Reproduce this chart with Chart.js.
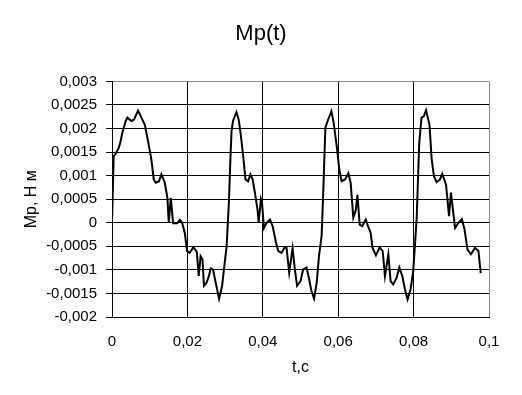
<!DOCTYPE html>
<html>
<head>
<meta charset="utf-8">
<script src="https://cdn.jsdelivr.net/npm/chart.js@4"></script>
<style>
  html, body { margin: 0; padding: 0; background: #fff; }
  #wrap { width: 522px; height: 395px; }
</style>
</head>
<body>
<div id="wrap"><canvas id="grafico"></canvas></div>
<script>
// время, с
const t = [
  0, 0.00045, 0.00116, 0.00178, 0.00222, 0.00275, 0.00364, 0.00408, 0.00514, 0.00585,
  0.00691, 0.0078, 0.00868, 0.00957, 0.01045, 0.01107, 0.0116, 0.01249, 0.0131, 0.014,
  0.0147, 0.01505, 0.0156, 0.0162, 0.0173, 0.018, 0.0186, 0.0193, 0.0199, 0.0206,
  0.0216, 0.0225, 0.023, 0.0235, 0.024, 0.0244, 0.0251, 0.0257, 0.0262, 0.0268,
  0.0275, 0.0284, 0.0292, 0.0297, 0.0304, 0.031, 0.0314, 0.0317, 0.0321, 0.033,
  0.0336, 0.0341, 0.0348, 0.0354, 0.0361, 0.0367, 0.0373, 0.0379, 0.0386, 0.0389,
  0.0395, 0.0398, 0.0403, 0.041, 0.0419, 0.0426, 0.0435, 0.0441, 0.045, 0.0457,
  0.0463, 0.047, 0.0479, 0.0485, 0.0491, 0.05, 0.0507, 0.0516, 0.0523, 0.0529,
  0.0536, 0.0543, 0.0549, 0.0556, 0.056, 0.0566, 0.0572, 0.0582, 0.0588, 0.0596,
  0.0603, 0.0609, 0.0618, 0.0627, 0.0633, 0.064, 0.0647, 0.0651, 0.0657, 0.0664,
  0.0673, 0.0679, 0.0686, 0.0691, 0.07, 0.071, 0.0718, 0.0724, 0.0733, 0.0739,
  0.0746, 0.0755, 0.0762, 0.077, 0.0777, 0.0784, 0.0792, 0.0799, 0.0808, 0.0815,
  0.0821, 0.0827, 0.0833, 0.0842, 0.0848, 0.0854, 0.0861, 0.087, 0.0876, 0.0886,
  0.0894, 0.0899, 0.091, 0.0919, 0.0928, 0.0935, 0.0943, 0.0952, 0.0963, 0.0972,
  0.0978
];
// Mp, Н м
const mp = [
  0, 0.00141, 0.00149, 0.00159, 0.00171, 0.00191, 0.00216, 0.00223, 0.00216, 0.00219,
  0.00238, 0.00223, 0.00209, 0.00173, 0.00134, 0.00092, 0.00085, 0.00088, 0.00103, 0.00085,
  0.00053, 0, 0.00053, -0.00001, -0.00001, 0.00006, 0, -0.00021, -0.0006, -0.00064,
  -0.00052, -0.00062, -0.00113, -0.00071, -0.00078, -0.00134, -0.00127, -0.00113, -0.00097, -0.00099,
  -0.00127, -0.00161, -0.00134, -0.00099, -0.0005, 0.00042, 0.00134, 0.00194, 0.00216, 0.00235,
  0.00219, 0.00191, 0.00141, 0.00092, 0.00088, 0.00103, 0.00092, 0.00064, 0.00028, 0,
  0.0005, 0.00042, -0.00011, 0, 0.00007, -0.00007, -0.00042, -0.0006, -0.00064, -0.00053,
  -0.00053, -0.00106, -0.00054, -0.00099, -0.00134, -0.00124, -0.00099, -0.00095, -0.0012, -0.00145,
  -0.00161, -0.00127, -0.00071, -0.00028, 0.00057, 0.00202, 0.00216, 0.00237, 0.00212, 0.00163,
  0.00113, 0.00088, 0.00092, 0.00105, 0.00085, 0.00011, 0.00028, 0.0006, -0.00004, -0.00007,
  0.00007, -0.00007, -0.00021, -0.00053, -0.00069, -0.00052, -0.0006, -0.00113, -0.00067, -0.00124,
  -0.00131, -0.00117, -0.00095, -0.00113, -0.00141, -0.00163, -0.00141, -0.00103, 0.00007, 0.0017,
  0.00223, 0.00226, 0.00239, 0.00209, 0.00134, 0.00099, 0.00086, 0.00092, 0.00104, 0.00081,
  0.00014, 0.00064, -0.00011, 0, 0.00008, -0.00014, -0.00057, -0.00067, -0.00053, -0.0006,
  -0.00107
];
const xTicks = [0, 0.02, 0.04, 0.06, 0.08, 0.1];
const yMin = -0.002, yMax = 0.003, yStep = 0.0005;

const fmt = v => String(+Number(v).toFixed(5)).replace('.', ',');
const fuente = 'Liberation Sans, Arial, sans-serif';

const ctx = document.getElementById('grafico').getContext('2d');
new Chart(ctx, {
  type: 'line',
  data: {
    datasets: [{
      data: t.map((x, i) => ({ x: x, y: mp[i] })),
      borderColor: '#000',
      borderWidth: 2,
      pointRadius: 0,
      tension: 0,
      fill: false
    }]
  },
  options: {
    responsive: true,
    maintainAspectRatio: false,
    animation: false,
    layout: { padding: 0 },
    plugins: {
      legend: { display: false },
      tooltip: { enabled: false },
      title: {
        display: true,
        text: 'Mp(t)',
        color: '#000',
        font: { family: fuente, size: 22, weight: 'normal' },
        padding: { top: 21, bottom: 34 }
      }
    },
    scales: {
      x: {
        type: 'linear',
        min: 0,
        max: 0.1,
        afterBuildTicks: s => { s.ticks = xTicks.map(v => ({ value: v })); },
        afterFit: s => { s.height = 78; },
        ticks: {
          color: '#000',
          font: { family: fuente, size: 15 },
          padding: 16,
          maxRotation: 0,
          callback: v => fmt(v)
        },
        grid: {
          drawTicks: false,
          color: c => (Math.abs(c.tick.value - 0.1) < 1e-9 ? '#888' : '#000'),
          lineWidth: 1
        },
        border: { color: '#000', width: 1 },
        title: {
          display: true,
          text: 't,c',
          color: '#000',
          font: { family: fuente, size: 16 },
          padding: { top: 4, bottom: 18 }
        }
      },
      y: {
        min: yMin,
        max: yMax,
        afterFit: s => { s.width = 112; },
        ticks: {
          stepSize: yStep,
          color: '#000',
          font: { family: fuente, size: 15 },
          padding: 9,
          callback: v => fmt(v)
        },
        grid: {
          drawTicks: true,
          tickLength: 6,
          tickColor: '#000',
          color: c => (Math.abs(c.tick.value - yMax) < 1e-9 ? '#888' : '#000'),
          lineWidth: 1
        },
        border: { color: '#000', width: 1 },
        title: {
          display: true,
          text: 'Mp, Н м',
          color: '#000',
          font: { family: fuente, size: 16 },
          padding: { top: 22, bottom: 4 }
        }
      },
      // пустое поле справа, чтобы заголовок был по центру холста
      derecha: {
        position: 'right',
        min: yMin,
        max: yMax,
        afterFit: s => { s.width = 33; },
        ticks: { display: false },
        grid: { display: false, drawTicks: false },
        border: { display: false }
      }
    }
  }
});
</script>
</body>
</html>
